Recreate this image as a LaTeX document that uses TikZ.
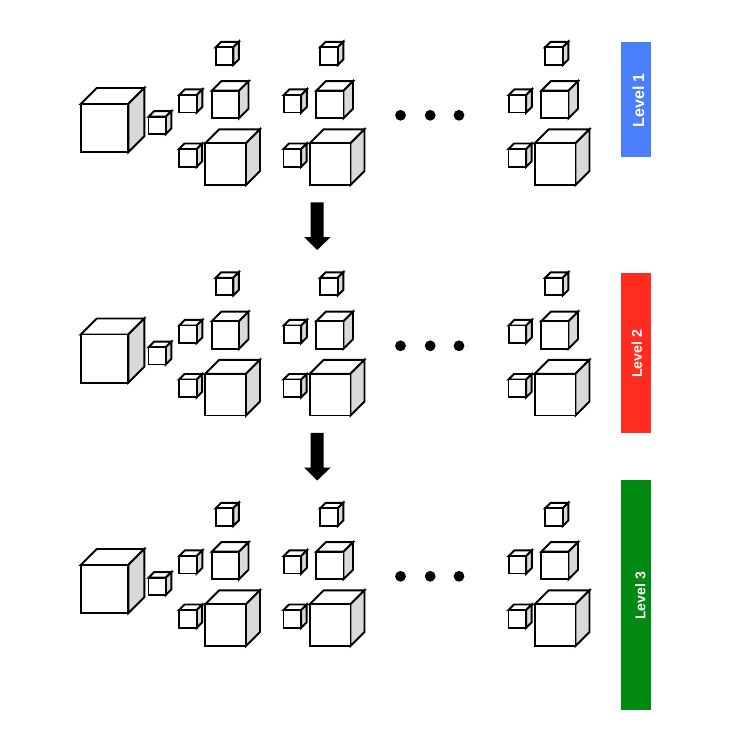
\documentclass[tikz,border=0pt]{standalone}
\usepackage{fontspec}
\setmainfont{Liberation Sans}[BoldFont={Liberation Sans Bold}]
\definecolor{sideg}{HTML}{D9D9D9}
\definecolor{lvlblue}{HTML}{4A7EFB}
\definecolor{lvlred}{HTML}{FF2C1F}
\definecolor{lvlgreen}{HTML}{008A11}
\tikzset{
  cubeline/.style={draw=black,line width=1.45pt,line join=miter},
  levelbar/.style={fill=#1,draw=none},
  leveltext/.style={text=white,rotate=90,inner sep=0pt},
  dotmark/.style={fill=black,draw=none},
  downarrow/.style={fill=black,draw=none},
  pics/cube/.style args={#1/#2/#3}{code={
    % #1 width, #2 height, #3 depth; origin at the front top-left corner
    \path[cubeline,fill=white] (0,0) -- (#3,#3) -- (#1+#3,#3) -- (#1,0) -- cycle;
    \path[cubeline,fill=sideg] (#1,0) -- (#1+#3,#3) -- (#1+#3,#3-#2) -- (#1,-#2) -- cycle;
    \path[cubeline,fill=white] (0,0) rectangle (#1,-#2);
  }},
  pics/bigcube/.style={code={
    \pic at (215.7,-47.3) {cube=17.6/17.6/5.5};
    \pic at (179.2,-95) {cube=17.5/17.5/5.6};
    \pic at (211.7,-90.7) {cube=27.3/27.6/9.5};
    \pic at (179,-149) {cube=17.7/17.7/5.5};
    \pic at (205.3,-143.3) {cube=40.7/41.7/14};
  }},
}
\begin{document}
\begin{tikzpicture}[x=0.75pt,y=0.75pt]
\useasboundingbox (0,0) rectangle (752,-752);
\foreach \ry in {0,230.5,461}{
  \begin{scope}[yshift={-\ry*0.75pt}]
    \pic at (80.7,-104) {cube=47.6/48.3/16};
    \pic at (148.5,-116.7) {cube=17.2/17.3/5.6};
    \pic at (0,0) {bigcube};
    \pic at (104.5,0) {bigcube};
    \pic at (329.5,0) {bigcube};
    \fill[dotmark] (400.5,-115.3) circle (5.4);
    \fill[dotmark] (430.2,-115.3) circle (5.4);
    \fill[dotmark] (459,-115.3) circle (5.4);
  \end{scope}
}
\foreach \ay in {0,230.5}{
  \fill[downarrow] (310.7,-202.3-\ay) -- (323.7,-202.3-\ay) -- (323.7,-237-\ay) -- (330.7,-237-\ay)
    -- (317.2,-250-\ay) -- (304,-237-\ay) -- (310.7,-237-\ay) -- cycle;
}
\fill[levelbar=lvlblue] (621,-42) rectangle (650.7,-156.7);
\fill[levelbar=lvlred] (621,-273) rectangle (650.7,-433);
\fill[levelbar=lvlgreen] (621,-480) rectangle (650.7,-710);
\node[leveltext,font=\bfseries\fontsize{12}{14}\selectfont] (l1) at (638.3,-100.3) {Level 1};
\node[leveltext,font=\bfseries\fontsize{10.6}{12}\selectfont] (l2) at (636.7,-354) {Level 2};
\node[leveltext,font=\bfseries\fontsize{10.6}{12}\selectfont] (l3) at (640.3,-596) {Level 3};
\end{tikzpicture}
\end{document}
